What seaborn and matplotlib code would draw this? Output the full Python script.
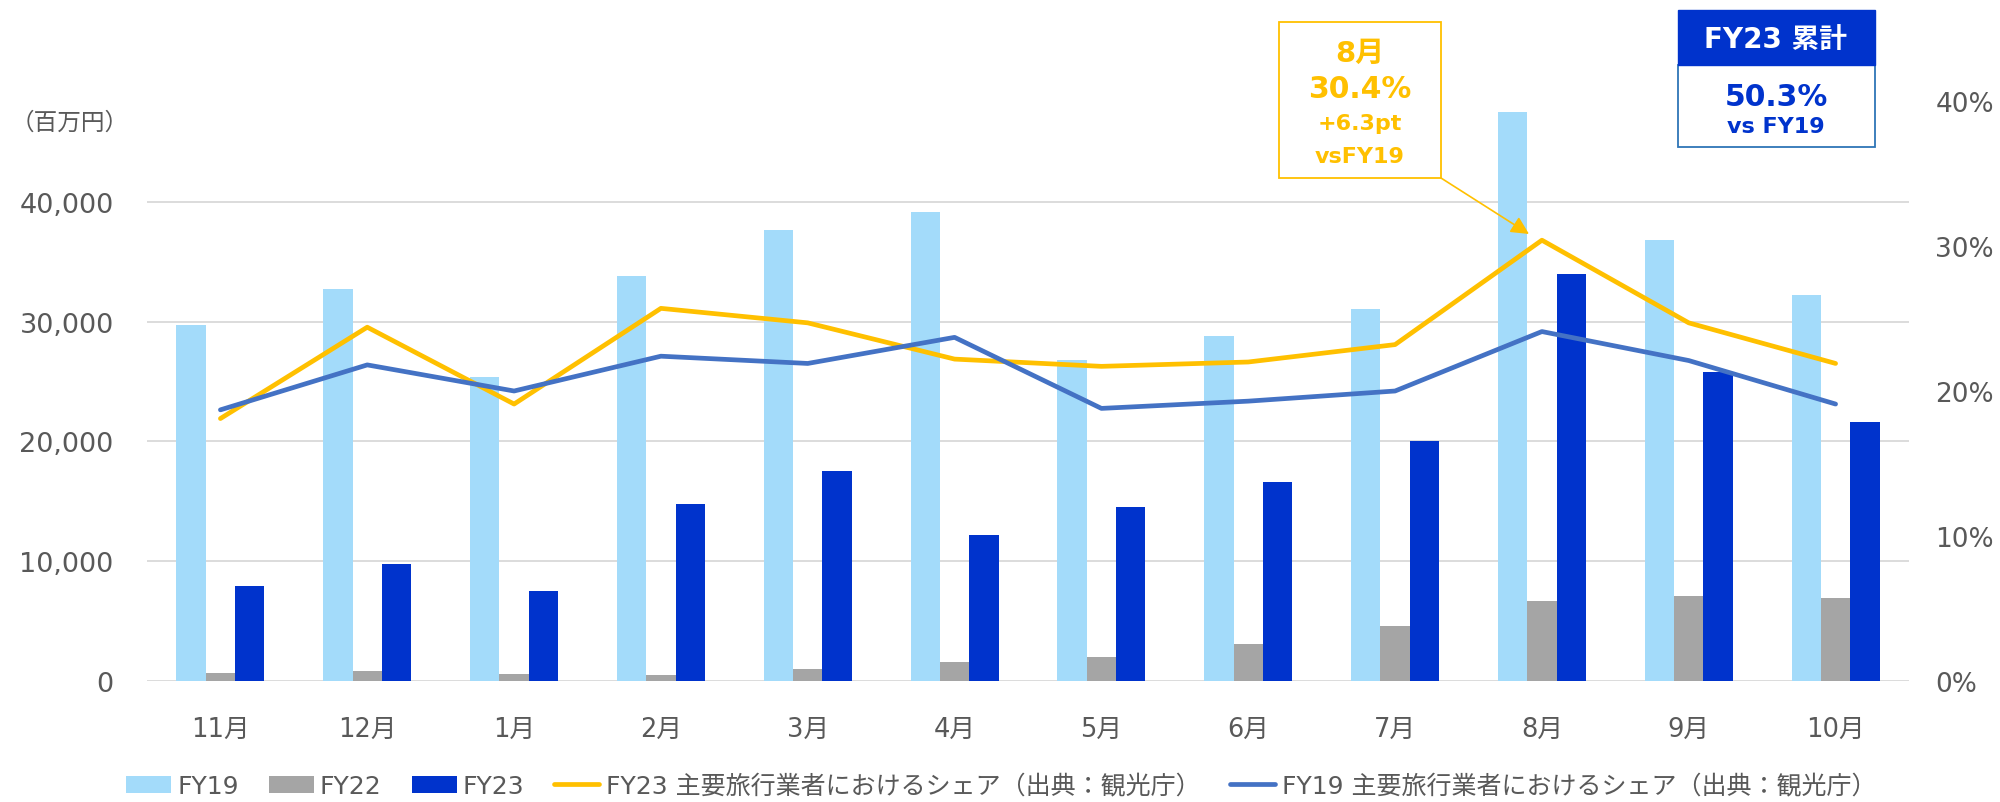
import numpy as np
import pandas as pd
import matplotlib.pyplot as plt
import seaborn as sns
from matplotlib.patches import Patch, Rectangle
from matplotlib.lines import Line2D

months = ['11月', '12月', '1月', '2月', '3月', '4月', '5月', '6月', '7月', '8月', '9月', '10月']
fy19 = [29700, 32700, 25400, 33800, 37700, 39200, 26800, 28800, 31100, 47500, 36800, 32200]
fy22 = [700, 800, 600, 500, 1000, 1600, 2000, 3100, 4600, 6700, 7100, 6900]
fy23 = [7900, 9800, 7500, 14800, 17500, 12200, 14500, 16600, 20000, 34000, 25800, 21600]
share23 = [18.1, 24.4, 19.1, 25.7, 24.7, 22.2, 21.7, 22.0, 23.2, 30.4, 24.7, 21.9]
share19 = [18.7, 21.8, 20.0, 22.4, 21.9, 23.7, 18.8, 19.3, 20.0, 24.1, 22.1, 19.1]

bar_series = ['FY19', 'FY22', 'FY23']
bar_colors = ['#A3DBFA', '#A5A5A5', '#0033CC']
line23_label = 'FY23 主要旅行業者におけるシェア（出典：観光庁）'
line19_label = 'FY19 主要旅行業者におけるシェア（出典：観光庁）'
c23 = '#FFC000'
c19 = '#4472C4'
grey_txt = '#595959'

sns.set_theme(style='white')
plt.rcParams['font.family'] = ['DejaVu Sans', 'Noto Sans CJK JP']

df = pd.DataFrame({
    'month': months * 3,
    'value': fy19 + fy22 + fy23,
    'series': ['FY19'] * 12 + ['FY22'] * 12 + ['FY23'] * 12,
})

W, H = 2000, 803
fig = plt.figure(figsize=(W / 100, H / 100), dpi=100)
ax = fig.add_axes([147 / W, 1 - 682 / H, (1909 - 147) / W, (682 - 102) / H])

sns.barplot(data=df, x='month', y='value', hue='series', order=months,
            hue_order=bar_series, palette=bar_colors, width=0.6, gap=0,
            saturation=1, linewidth=0, legend=False, ax=ax)
ax.set_ylim(0, 48430)
ax.set_xlim(-0.5, 11.5)
ax.set_yticks([0, 10000, 20000, 30000, 40000])
ax.set_yticklabels([f'{v:,}' for v in [0, 10000, 20000, 30000, 40000]])
ax.yaxis.grid(True, color='#D9D9D9', lw=1.3)
ax.set_axisbelow(True)
ax.set_xlabel('')
ax.set_ylabel('')
for s in ax.spines.values():
    s.set_visible(False)
ax.tick_params(axis='y', length=0, pad=24, labelsize=19.5, labelcolor=grey_txt)
ax.tick_params(axis='x', length=0, pad=25, labelsize=18.5, labelcolor=grey_txt)

ax2 = ax.twinx()
sns.lineplot(x=months, y=share23, sort=False, color=c23, lw=3.4, ax=ax2, legend=False)
sns.lineplot(x=months, y=share19, sort=False, color=c19, lw=3.4, ax=ax2, legend=False)
ax2.set_ylim(0, 40)
ax2.set_yticks([0, 10, 20, 30, 40])
ax2.set_yticklabels([f'{v}%' for v in [0, 10, 20, 30, 40]])
ax2.set_ylabel('')
ax2.grid(False)
for s in ax2.spines.values():
    s.set_visible(False)
ax2.tick_params(axis='y', length=0, pad=19, labelsize=19, labelcolor=grey_txt)

# unit label
fig.text(70 / W, 1 - 123 / H, '（百万円）', fontsize=17, color=grey_txt, ha='center', va='center')

# August callout
fig.patches.append(Rectangle((1279 / W, 1 - 179 / H), 162 / W, 156 / H, transform=fig.transFigure,
                             facecolor='white', edgecolor=c23, lw=1.3, zorder=5))
for txt, yy, fs in [('8月', 54, 21), ('30.4%', 90, 21.5), ('+6.3pt', 124, 16), ('vsFY19', 157, 16)]:
    fig.text(1360 / W, 1 - yy / H, txt, fontsize=fs, fontweight='bold', color=c23,
             ha='center', va='center', zorder=6)
ax2.annotate('', xy=(1529 / W, 1 - 235 / H), xycoords='figure fraction',
             xytext=(1441 / W, 1 - 179 / H), textcoords='figure fraction',
             arrowprops=dict(arrowstyle='-|>,head_length=0.9,head_width=0.45',
                             color=c23, lw=1.2, shrinkA=0, shrinkB=0))

# cumulative box
fig.patches.append(Rectangle((1678 / W, 1 - 148 / H), 197 / W, 82 / H, transform=fig.transFigure,
                             facecolor='white', edgecolor='#2E75B6', lw=1.3, zorder=5))
fig.patches.append(Rectangle((1678 / W, 1 - 66 / H), 197 / W, 55 / H, transform=fig.transFigure,
                             facecolor='#0033CC', edgecolor='#0033CC', lw=1.0, zorder=5))
fig.text(1776 / W, 1 - 40 / H, 'FY23 累計', fontsize=20, fontweight='bold', color='white',
         ha='center', va='center', zorder=6)
fig.text(1776 / W, 1 - 97 / H, '50.3%', fontsize=21.5, fontweight='bold', color='#0033CC',
         ha='center', va='center', zorder=6)
fig.text(1776 / W, 1 - 127 / H, 'vs FY19', fontsize=16, fontweight='bold', color='#0033CC',
         ha='center', va='center', zorder=6)

handles = [Patch(facecolor=c, edgecolor='none') for c in bar_colors]
handles += [Line2D([0], [0], color=c23, lw=3.4), Line2D([0], [0], color=c19, lw=3.4)]
labels = bar_series + [line23_label, line19_label]
leg = fig.legend(handles, labels, loc='center', bbox_to_anchor=(1001 / W, 1 - 787 / H), ncol=5,
                 frameon=False, fontsize=18, handlelength=1.8, handleheight=0.7,
                 handletextpad=0.25, columnspacing=1.2, borderaxespad=0)
for t in leg.get_texts():
    t.set_color(grey_txt)

fig.savefig('out.png', dpi=100)
